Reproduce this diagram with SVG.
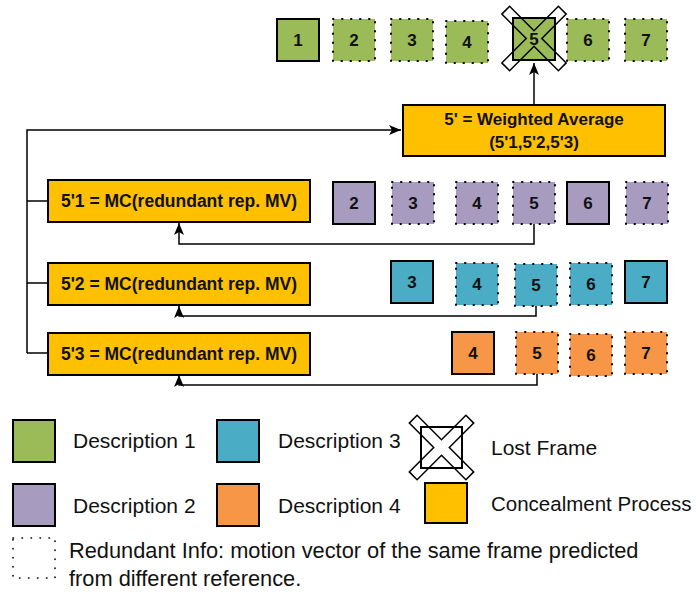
<svg xmlns="http://www.w3.org/2000/svg" width="696" height="592" viewBox="0 0 696 592">
<defs>
<style>
text{font-family:"Liberation Sans",Arial,sans-serif;fill:#111}
.n{font-size:17px;font-weight:bold;text-anchor:middle}
.p{font-size:17px;font-weight:bold;text-anchor:middle}
.m{font-size:17.5px}
.lg{font-size:21px}
.sol{stroke:#000;stroke-width:2}
.dot{stroke:#000;stroke-width:2;stroke-dasharray:0.5 8.5;stroke-linecap:round}
.g{fill:#9BBB59}.v{fill:#A89BC0}.b{fill:#4BACC6}.o{fill:#F79646}.y{fill:#FFC000}
.c{fill:none;stroke:#000;stroke-width:1.5}
.x{fill:none;stroke:#000;stroke-width:1.5}
.proc{fill:#FFC000;stroke:#000;stroke-width:2}
</style>
<marker id="ah" viewBox="0 0 12 10" refX="12" refY="5" markerWidth="12" markerHeight="10" markerUnits="userSpaceOnUse" orient="auto">
<path d="M0,0 L12,5 L0,10 L3,5 z" fill="#000"/>
</marker>
<path id="xs" d="M-32.2,-24.4 L-24.4,-32.2 L0,-7.8 L24.4,-32.2 L32.2,-24.4 L7.8,0 L32.2,24.4 L24.4,32.2 L0,7.8 L-24.4,32.2 L-32.2,24.4 L-7.8,0 Z"/>
</defs>

<g id="connectors">
<path class="c" d="M27,353 V130 H401" marker-end="url(#ah)"/>
<path class="c" d="M27,201 H48 M27,283 H48 M27,353 H48"/>
<path class="c" d="M534,105 V63" marker-end="url(#ah)"/>
<path class="c" d="M534,223 V244 H179 V223" marker-end="url(#ah)"/>
<path class="c" d="M536,306 V316 H179 V306" marker-end="url(#ah)"/>
<path class="c" d="M537,374 V385 H179 V375" marker-end="url(#ah)"/>
</g>

<g id="row-d1">
<g id="d1-1"><rect class="g sol" x="277" y="19" width="42" height="42"/><text class="n" x="298" y="46">1</text></g>
<g id="d1-2"><rect class="g dot" x="333" y="19" width="42" height="42"/><text class="n" x="354" y="46">2</text></g>
<g id="d1-3"><rect class="g dot" x="391" y="19" width="42" height="42"/><text class="n" x="412" y="46">3</text></g>
<g id="d1-4"><rect class="g dot" x="446" y="21" width="42" height="42"/><text class="n" x="467" y="48">4</text></g>
<g id="d1-5"><rect class="g sol" x="513" y="18" width="42" height="42"/><text class="n" x="534" y="45">5</text><use href="#xs" class="x" x="534" y="38.5"/></g>
<g id="d1-6"><rect class="g dot" x="567" y="19" width="42" height="42"/><text class="n" x="588" y="46">6</text></g>
<g id="d1-7"><rect class="g dot" x="625" y="19" width="42" height="42"/><text class="n" x="646" y="46">7</text></g>
</g>

<g id="weighted-average">
<rect class="proc" x="403" y="105" width="262" height="51"/>
<text class="p" x="534" y="125">5' = Weighted Average</text>
<text class="p" x="534" y="148">(5'1,5'2,5'3)</text>
</g>

<g id="mc1"><rect class="proc" x="48" y="180" width="262" height="42"/><text class="p m" x="179" y="207">5'1 = MC(redundant rep. MV)</text></g>
<g id="mc2"><rect class="proc" x="48" y="263" width="262" height="42"/><text class="p m" x="179" y="290">5'2 = MC(redundant rep. MV)</text></g>
<g id="mc3"><rect class="proc" x="48" y="333" width="262" height="42"/><text class="p m" x="179" y="360">5'3 = MC(redundant rep. MV)</text></g>

<g id="row-d2">
<g id="d2-2"><rect class="v sol" x="333" y="182" width="42" height="42"/><text class="n" x="354" y="209">2</text></g>
<g id="d2-3"><rect class="v dot" x="392" y="182" width="42" height="42"/><text class="n" x="413" y="209">3</text></g>
<g id="d2-4"><rect class="v dot" x="456" y="182" width="42" height="42"/><text class="n" x="477" y="209">4</text></g>
<g id="d2-5"><rect class="v dot" x="513" y="182" width="42" height="42"/><text class="n" x="534" y="209">5</text></g>
<g id="d2-6"><rect class="v sol" x="567" y="182" width="42" height="42"/><text class="n" x="588" y="209">6</text></g>
<g id="d2-7"><rect class="v dot" x="626" y="182" width="42" height="42"/><text class="n" x="647" y="209">7</text></g>
</g>

<g id="row-d3">
<g id="d3-3"><rect class="b sol" x="391" y="261" width="42" height="42"/><text class="n" x="412" y="288">3</text></g>
<g id="d3-4"><rect class="b dot" x="456" y="263" width="42" height="42"/><text class="n" x="477" y="290">4</text></g>
<g id="d3-5"><rect class="b dot" x="515" y="264" width="42" height="42"/><text class="n" x="536" y="291">5</text></g>
<g id="d3-6"><rect class="b dot" x="570" y="263" width="42" height="42"/><text class="n" x="591" y="290">6</text></g>
<g id="d3-7"><rect class="b sol" x="625" y="261" width="42" height="42"/><text class="n" x="646" y="288">7</text></g>
</g>

<g id="row-d4">
<g id="d4-4"><rect class="o sol" x="452" y="332" width="42" height="42"/><text class="n" x="473" y="359">4</text></g>
<g id="d4-5"><rect class="o dot" x="516" y="332" width="42" height="42"/><text class="n" x="537" y="359">5</text></g>
<g id="d4-6"><rect class="o dot" x="570" y="334" width="42" height="42"/><text class="n" x="591" y="361">6</text></g>
<g id="d4-7"><rect class="o dot" x="625" y="332" width="42" height="42"/><text class="n" x="646" y="359">7</text></g>
</g>

<g id="legend">
<g id="lg-d1"><rect class="g sol" x="13" y="420" width="42" height="42"/><text class="lg" x="73" y="448">Description 1</text></g>
<g id="lg-d3"><rect class="b sol" x="217" y="420" width="42" height="42"/><text class="lg" x="278" y="448">Description 3</text></g>
<g id="lg-lost"><rect x="421" y="427" width="41" height="41" fill="none" stroke="#000" stroke-width="2"/><use href="#xs" class="x" x="441.5" y="447.5"/><text class="lg" x="491" y="455">Lost Frame</text></g>
<g id="lg-d2"><rect class="v sol" x="13" y="484" width="42" height="42"/><text class="lg" x="73" y="513">Description 2</text></g>
<g id="lg-d4"><rect class="o sol" x="217" y="484" width="42" height="42"/><text class="lg" x="278" y="513">Description 4</text></g>
<g id="lg-proc"><rect class="proc" x="425" y="483" width="42" height="40"/><text class="lg" x="491" y="511" style="font-size:20.5px">Concealment Process</text></g>
<g id="lg-red"><rect x="13" y="538" width="42" height="40" fill="none" class="dot" style="stroke-width:1.6"/>
<text class="lg" x="69" y="558" style="font-size:21.8px">Redundant Info: motion vector of the same frame predicted</text>
<text class="lg" x="69" y="586" style="font-size:21.8px">from different reference.</text></g>
</g>
</svg>
